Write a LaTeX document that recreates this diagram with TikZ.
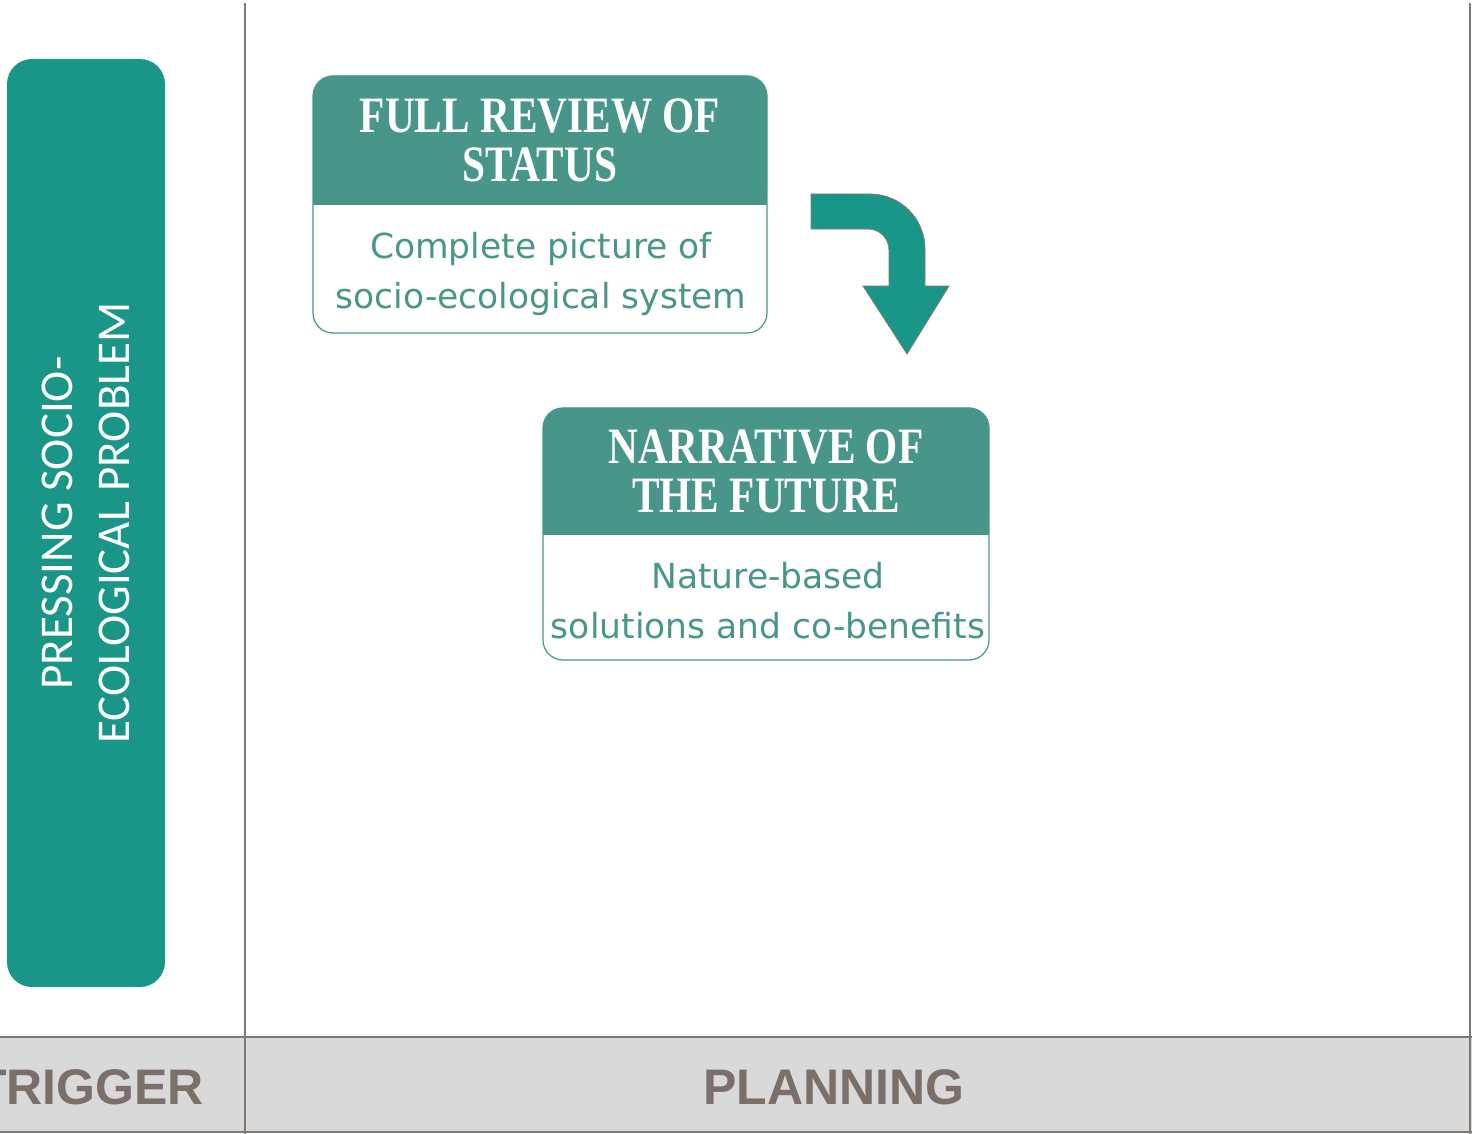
\documentclass[tikz,border=0pt]{standalone}
\usepackage{fontspec}
\usetikzlibrary{positioning}

\newfontfamily\headfont[FakeStretch=0.81]{Liberation Serif}
\newfontfamily\bodyfont{DejaVu Sans}
\newfontfamily\barfont{Carlito}
\newfontfamily\bandfont{Liberation Sans}

\definecolor{teal}{RGB}{26,150,136}
\definecolor{headfill}{RGB}{72,150,138}
\definecolor{rule}{RGB}{128,120,115}
\definecolor{bandgray}{RGB}{217,217,217}
\definecolor{bandtext}{RGB}{122,112,105}

\tikzset{
  frame/.style={draw=headfill, line width=1.2pt, rounded corners=20pt, fill=white},
  head/.style={fill=headfill, rounded corners=20pt, inner sep=0pt, align=center,
    text=white, font=\headfont\bfseries\fontsize{51}{49}\selectfont},
  body/.style={inner sep=0pt, align=center, text=headfill,
    font=\bodyfont\fontsize{34.5}{50}\selectfont},
  phase/.style={inner sep=0pt, text=bandtext, font=\bandfont\bfseries\fontsize{50}{50}\selectfont}
}

\begin{document}
\begin{tikzpicture}[x=1pt,y=-1pt]
\useasboundingbox (0,0) rectangle (1474,1134);

% bottom band
\fill[bandgray] (0,1037) rectangle (1472,1132);
\draw[rule, line width=1.5pt] (0,1037) -- (1472,1037);
\draw[rule, line width=1.5pt] (0,1132) -- (1472,1132);
\draw[rule, line width=1.5pt] (245,3) -- (245,1134);
\draw[rule, line width=1.5pt] (1470,3) -- (1470,1134);

\node[phase, anchor=base east] (trigger) at (204,1104) {TRIGGER};
\node[phase, anchor=base] (planning) at (834,1104) {PLANNING};

% trigger bar
\node[fill=teal, rounded corners=25pt, minimum width=158pt, minimum height=928pt,
  inner sep=0pt] (problem) at (86,523) {};
\node[rotate=90, align=center, text=white, inner sep=0pt,
  font=\barfont\fontsize{47}{57}\selectfont] (problemtext) at (problem.center)
  {PRESSING SOCIO-\\ECOLOGICAL PROBLEM};

% full review box
\node[frame, minimum width=454pt, minimum height=257pt] (review) at (540,204.5) {};
\node[head, minimum width=454pt, minimum height=129pt, anchor=north]
  (reviewhead) at (review.north) {FULL REVIEW OF\\STATUS};
\fill[headfill] (reviewhead.south west) rectangle ([yshift=20pt]reviewhead.south east);
\node[body] (reviewtext) at (541,274) {Complete picture of\\socio-ecological system};

% narrative box
\node[frame, minimum width=446pt, minimum height=252pt] (future) at (766,534) {};
\node[head, minimum width=446pt, minimum height=127pt, anchor=north]
  (futurehead) at (future.north) {NARRATIVE OF\\THE FUTURE};
\fill[headfill] (futurehead.south west) rectangle ([yshift=20pt]futurehead.south east);
\node[body] (futuretext) at (768,601) {Nature-based\\solutions and co-benefits};

% bent arrow
\filldraw[fill=teal, draw=rule, line width=0.8pt]
  (811,194) -- (870,194) .. controls (900.4,194) and (925,218.6) .. (925,249)
  -- (925,286) -- (949,286) -- (907,354) -- (863,286) -- (889,286) -- (889,250)
  .. controls (889,238.4) and (879.6,229) .. (868,229) -- (811,229) -- cycle;
\end{tikzpicture}
\end{document}
